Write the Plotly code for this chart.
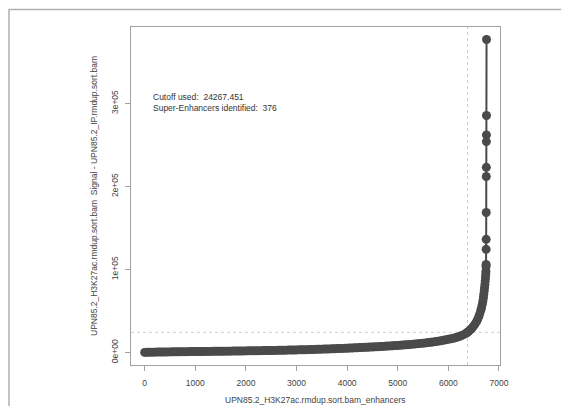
import plotly.graph_objects as go

# Enhancer rank (x) and signal (y)
ranks = [0, 50, 100, 150, 200, 250, 300, 350, 400, 450, 500, 550, 600, 650, 700, 750, 800, 850, 900, 950,
         1000, 1050, 1100, 1150, 1200, 1250, 1300, 1350, 1400, 1450, 1500, 1550, 1600, 1650, 1700, 1750,
         1800, 1850, 1900, 1950, 2000, 2050, 2100, 2150, 2200, 2250, 2300, 2350, 2400, 2450, 2500, 2550,
         2600, 2650, 2700, 2750, 2800, 2850, 2900, 2950, 3000, 3050, 3100, 3150, 3200, 3250, 3300, 3350,
         3400, 3450, 3500, 3550, 3600, 3650, 3700, 3750, 3800, 3850, 3900, 3950, 4000, 4050, 4100, 4150,
         4200, 4250, 4300, 4350, 4400, 4450, 4500, 4550, 4600, 4650, 4700, 4750, 4800, 4850, 4900, 4950,
         5000, 5050, 5100, 5150, 5200, 5250, 5300, 5350, 5400, 5450, 5500, 5550, 5600, 5650, 5700, 5750,
         5800, 5850, 5900, 5950, 6000, 6050, 6100, 6150, 6200, 6250, 6300, 6350, 6378, 6400, 6430, 6460,
         6490, 6520, 6550, 6575, 6600, 6620, 6640, 6655, 6670, 6682, 6692, 6700, 6708, 6715, 6722, 6728,
         6733, 6738, 6742,
         6744, 6745, 6746, 6747, 6748, 6749, 6750, 6751, 6752, 6753, 6754]
signal = [100, 200, 300, 350, 400, 450, 500, 550, 600, 650, 700, 750, 800, 850, 900, 950, 1000, 1020, 1050, 1080,
          1100, 1150, 1200, 1220, 1250, 1280, 1300, 1350, 1400, 1450, 1500, 1520, 1550, 1580, 1600, 1650,
          1700, 1750, 1800, 1850, 1900, 1950, 2000, 2050, 2100, 2150, 2200, 2250, 2300, 2350, 2400, 2450,
          2500, 2580, 2650, 2720, 2800, 2880, 2950, 3020, 3100, 3180, 3250, 3320, 3400, 3500, 3600, 3700,
          3800, 3900, 4000, 4100, 4200, 4300, 4400, 4520, 4650, 4770, 4900, 5020, 5150, 5270, 5400, 5550,
          5700, 5850, 6000, 6150, 6300, 6450, 6600, 6770, 6950, 7120, 7300, 7500, 7700, 7900, 8100, 8300,
          8500, 8720, 8950, 9200, 9450, 9720, 10000, 10300, 10600, 10900, 11200, 11550, 11900, 12300, 12700, 13150,
          13600, 14100, 14600, 15200, 15800, 16500, 17200, 18100, 19000, 20200, 21500, 23200, 24300, 25500, 27200, 29000,
          31200, 33600, 36500, 39500, 43000, 46500, 50500, 54000, 58000, 62000, 66000, 70000, 74000, 78000, 82000, 86000,
          90000, 94000, 97500,
          103600, 106000, 124200, 136300, 168600, 212000, 223000, 254000, 262000, 285400, 377000]

cutoff = 24267.451
n_super = 376
cutoff_rank = ranks[-1] - n_super

x_ticks = [0, 1000, 2000, 3000, 4000, 5000, 6000, 7000]
y_ticks = [0, 100000, 200000, 300000]
y_tick_labels = ["0e+00", "1e+05", "2e+05", "3e+05"]

x_title = "UPN85.2_H3K27ac.rmdup.sort.bam_enhancers"
y_title = "UPN85.2_H3K27ac.rmdup.sort.bam  Signal - UPN85.2_IP.rmdup.sort.bam"

FONT = "Liberation Sans, Arial, Helvetica, sans-serif"
DARK = "#4a4a4a"
FRAME = "#a0a0a0"
TEXT = "#444444"

# page body adds an 8px margin, so the figure is 8px smaller than the window
W, H = 561, 398
L, R, T, B = 123, 69, 19, 41
PW, PH = W - L - R, H - T - B

fig = go.Figure()
fig.add_trace(go.Scatter(
    x=ranks, y=signal, mode="lines+markers",
    line=dict(color=DARK, width=2),
    marker=dict(color=DARK, size=9),
    hoverinfo="skip", showlegend=False,
))

fig.update_layout(
    width=W, height=H,
    margin=dict(l=L, r=R, t=T, b=B),
    paper_bgcolor="white", plot_bgcolor="white",
    font=dict(family=FONT, size=8, color=TEXT),
    xaxis=dict(range=[-270, 7020], tickvals=x_ticks, ticks="outside", ticklen=5,
               ticklabelstandoff=5,
               tickcolor=FRAME, showline=True, linecolor=FRAME, linewidth=1.3,
               mirror=True, showgrid=False, zeroline=False,
               tickfont=dict(size=8.5, color=TEXT)),
    yaxis=dict(range=[-15080, 392000], tickvals=y_ticks, ticktext=y_tick_labels,
               ticks="outside", ticklen=5, tickcolor=FRAME, tickangle=-90,
               ticklabelstandoff=3,
               showline=True, linecolor=FRAME, linewidth=1.3, mirror=True,
               showgrid=False, zeroline=False,
               tickfont=dict(size=8.5, color=TEXT)),
    shapes=[
        dict(type="line", xref="paper", yref="y", x0=0, x1=1, y0=cutoff, y1=cutoff,
             line=dict(color="#d0d0d0", width=1, dash="3px,3px"), layer="below"),
        dict(type="line", xref="x", yref="paper", x0=cutoff_rank, x1=cutoff_rank, y0=0, y1=1,
             line=dict(color="#d0d0d0", width=1, dash="3px,3px"), layer="below"),
        dict(type="rect", xref="paper", yref="paper",
             x0=(1 - L) / PW, x1=(W + 10 - L) / PW,
             y0=-(B + 10) / PH, y1=(H - B - 1.5) / PH,
             line=dict(color="#b0b0b0", width=1.5), fillcolor="rgba(0,0,0,0)"),
    ],
    annotations=[
        dict(xref="x", yref="y", x=120, y=0.8 * signal[-1], xanchor="left", yanchor="middle",
             align="left", showarrow=False,
             text="Cutoff used:  24267.451<br>Super-Enhancers identified:  376",
             font=dict(size=8.5, color="#333333")),
        dict(xref="paper", yref="paper", x=0.5, y=-35 / PH, xanchor="center", yanchor="middle",
             showarrow=False, text=x_title,
             font=dict(size=8.5, color=TEXT)),
        dict(xref="paper", yref="paper", x=-37 / PW, y=0.5, xanchor="center", yanchor="middle",
             textangle=-90, showarrow=False, text=y_title,
             font=dict(size=8.5, color=TEXT)),
    ],
)

fig.write_html("out.html")
